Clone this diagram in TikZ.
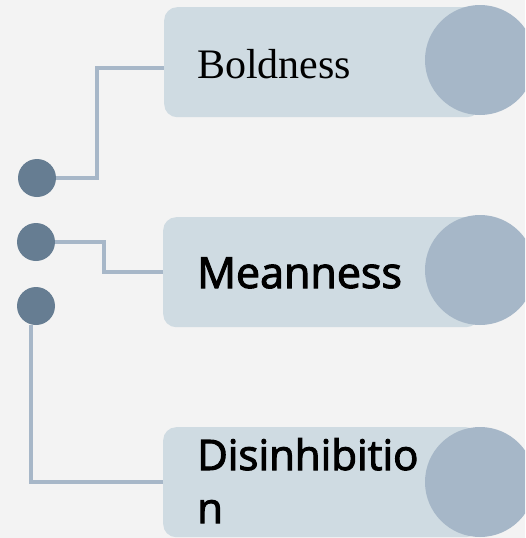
\documentclass[tikz,border=0pt]{standalone}
\usepackage{fontspec}
\setmainfont{Liberation Serif}
\newfontfamily\uisans{Open Sans}[FakeBold=2.5]
\definecolor{bgc}{HTML}{F3F3F3}
\definecolor{dotc}{HTML}{667D92}
\definecolor{linec}{HTML}{A7B7C8}
\definecolor{boxc}{HTML}{CFDBE2}
\definecolor{circc}{HTML}{A6B7C8}
\tikzset{
  dotnode/.style={circle, fill=dotc, minimum size=38pt, inner sep=0pt},
  boxnode/.style={rounded corners=13pt, fill=boxc, minimum width=316pt, minimum height=110pt, inner sep=0pt, anchor=north west},
  bignode/.style={circle, fill=circc, minimum size=110pt, inner sep=0pt},
  conn/.style={draw=linec, line width=3.5pt},
  lbl/.style={anchor=base west, inner sep=0pt}
}
\begin{document}
\begin{tikzpicture}[x=1pt,y=-1pt]
\useasboundingbox (0,0) rectangle (525,538);
\clip (0,0) rectangle (525,538);
\fill[bgc] (0,0) rectangle (525,538);
% boxes
\node[boxnode] (b1) at (164,7) {};
\node[boxnode] (b2) at (163,217) {};
\node[boxnode] (b3) at (163,427) {};
% dots
\node[dotnode] (d1) at (37,178) {};
\node[dotnode] (d2) at (36,242) {};
\node[dotnode] (d3) at (36,306) {};
% connectors
\draw[conn] (d1.east) -| (97,120) |- ([yshift=-6pt]b1.west);
\draw[conn] (d2.east) -| (104,260) |- (b2.west);
\draw[conn] ([xshift=-5pt]d3.south) |- (b3.west);
% big circles
\node[bignode] (c1) at (480,60) {};
\node[bignode] (c2) at (480,270) {};
\node[bignode] (c3) at (480,482) {};
% labels
\node[lbl] (t1) at (197,78) {\fontsize{42}{48}\selectfont Boldness};
\node[lbl] (t2) at (197,288) {\uisans\fontsize{43}{52}\selectfont Meanness};
\node[lbl] (t3a) at (197,470) {\uisans\fontsize{42}{53}\selectfont Disinhibitio};
\node[lbl] (t3b) at (197,523) {\uisans\fontsize{42}{53}\selectfont n};
\end{tikzpicture}
\end{document}
